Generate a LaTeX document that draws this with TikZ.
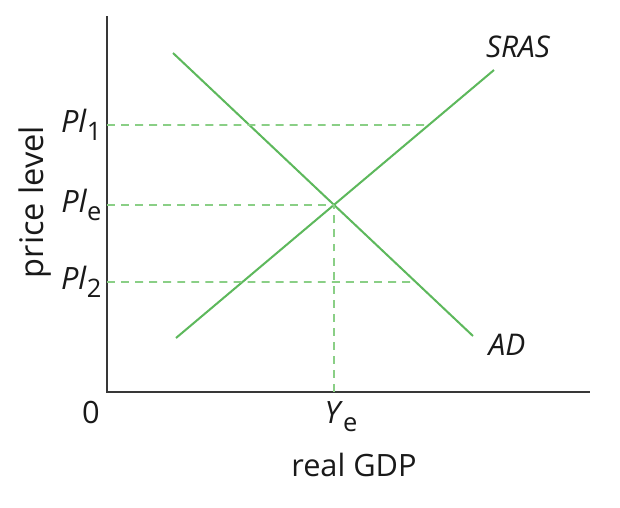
\documentclass[tikz,border=0pt]{standalone}
\usepackage{fontspec}
\setmainfont{Open Sans}
\usepackage{xcolor}
\definecolor{adGreen}{HTML}{5DB85C}
\definecolor{dashGreen}{HTML}{8ACF86}
\definecolor{axisGray}{HTML}{383838}
\newcommand{\lowsub}[1]{\raisebox{-0.45ex}{\fontsize{14.5}{16}\selectfont #1}}
\usepackage{tikz}

\begin{document}
\begin{tikzpicture}[x=0.02cm, y=-0.02cm, >=stealth,
    axisline/.style={axisGray, line width=1.7pt},
    curveline/.style={adGreen, line width=1.15pt},
    guideline/.style={dashGreen, line width=0.9pt, dash pattern=on 4.5pt off 3.5pt},
    axislabel/.style={font=\fontsize{17.5}{20}\selectfont, text=black!90}]
  \useasboundingbox (0,0) rectangle (620,508);
  % ------- axes -------
  \coordinate (origin) at (107,392);
  \coordinate (ytop) at (107,16);
  \coordinate (xend) at (590,392);
  \draw[axisline] (ytop) -- (origin) -- (xend);
  % ------- curves -------
  \coordinate (adHigh) at (173,53);
  \coordinate (adLow) at (473,336);
  \coordinate (srasLow) at (176,338);
  \coordinate (srasHigh) at (494,70);
  \draw[curveline] (adHigh) -- (adLow);
  \draw[curveline] (srasLow) -- (srasHigh);
  \coordinate (eq) at (intersection of adHigh--adLow and srasLow--srasHigh);
  % ------- guides -------
  \coordinate (plOneAx) at (107,125);
  \coordinate (plTwoAx) at (107,282);
  \coordinate (plOneFar) at (600,125);
  \coordinate (plTwoFar) at (600,282);
  \coordinate (plOne) at (intersection of plOneAx--plOneFar and srasLow--srasHigh);
  \coordinate (plTwo) at (intersection of plTwoAx--plTwoFar and adHigh--adLow);
  \coordinate (plEAx) at (origin |- eq);
  \coordinate (yeAx) at (origin -| eq);
  \draw[guideline] (plOneAx) -- (plOne);
  \draw[guideline] (plEAx) -- (eq);
  \draw[guideline] (plTwoAx) -- (plTwo);
  \draw[guideline] (yeAx) -- (eq);
  % ------- labels -------
  \node[axislabel, anchor=east, inner sep=1pt] (plOneLbl) at ([xshift=-2pt]plOneAx) {\textit{Pl}\lowsub{1}};
  \node[axislabel, anchor=east, inner sep=1pt] (plELbl) at ([xshift=-2pt]plEAx) {\textit{Pl}\lowsub{e}};
  \node[axislabel, anchor=east, inner sep=1pt] (plTwoLbl) at ([xshift=-2pt]plTwoAx) {\textit{Pl}\lowsub{2}};
  \node[axislabel, anchor=north] (yeLbl) at ([xshift=4pt, yshift=-2pt]yeAx) {\textit{Y}\lowsub{e}};
  \node[axislabel] (zeroLbl) at (91,412) {0};
  \node[axislabel] (gdpLbl) at (354,465) {real GDP};
  \node[axislabel, font=\fontsize{18.5}{20}\selectfont, rotate=90] (priceLbl) at (35,202) {price level};
  \node[axislabel, font=\fontsize{17}{20}\selectfont\itshape] (srasLbl) at (518,47) {SRAS};
  \node[axislabel, font=\fontsize{17}{20}\selectfont\itshape] (adLbl) at (507,345) {AD};
\end{tikzpicture}
\end{document}
